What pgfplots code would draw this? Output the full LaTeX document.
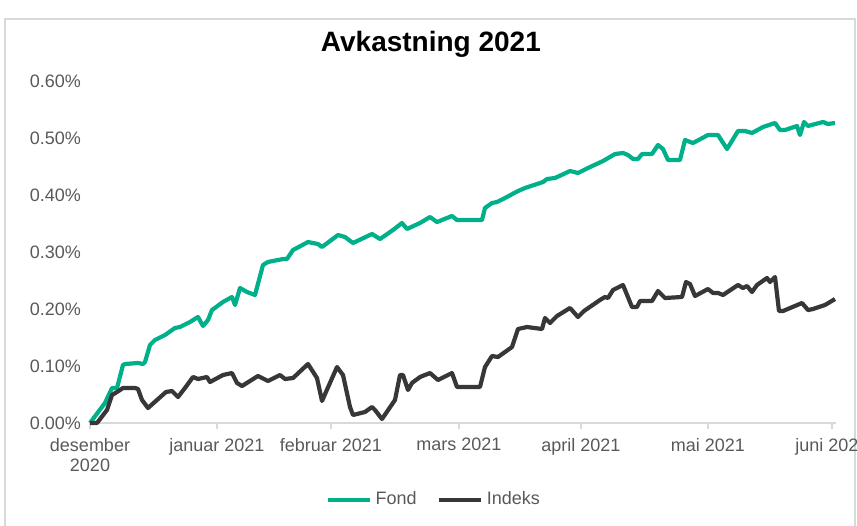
\documentclass[border=0pt]{standalone}
\usepackage{pgfplots}
\pgfplotsset{compat=1.18}
\usepackage{fontspec}
\setmainfont{Liberation Sans}
\definecolor{fondgreen}{RGB}{0,176,138}
\definecolor{indeksgray}{RGB}{55,55,55}
\definecolor{labgray}{RGB}{89,89,89}
\definecolor{linegray}{RGB}{217,217,217}
\begin{document}
\begin{tikzpicture}
\useasboundingbox (0,0) rectangle (428.5pt,262.5pt);
\draw[linegray, line width=0.8pt] (2.5pt,-5pt) -- (2.5pt,253pt) -- (427.5pt,253pt) -- (427.5pt,-5pt);
\begin{axis}[
  at={(45pt,51pt)}, anchor=south west,
  scale only axis, width=373pt, height=171pt,
  xmin=90, xmax=836, ymin=0, ymax=0.6,
  clip=false,
  axis lines*=left,
  x axis line style={linegray, line width=0.8pt},
  y axis line style={draw=none},
  xtick={90,217,331,459,581,708,832},
  xticklabels={desember\\2020, januar 2021, februar 2021, mars 2021, april 2021, mai 2021, juni 2021},
  xtick align=outside,
  major tick length=3pt,
  xtick style={linegray, line width=0.8pt},
  ytick={0,0.1,0.2,0.3,0.4,0.5,0.6},
  ytick style={draw=none},
  /pgf/number format/assume math mode=true,
  yticklabel={\pgfmathprintnumber[fixed,fixed zerofill,precision=2]{\tick}\%},
  ticklabel style={font=\fontsize{9}{10}\selectfont, text=labgray},
  xticklabel style={align=center, yshift=-1pt},
  yticklabel style={xshift=-1pt},
  title={Avkastning 2021},
  every axis title shift=0pt,
  title style={font=\fontsize{14}{16}\selectfont\bfseries, at={(0.457,1.108)}, anchor=center, yshift=0pt},
  legend style={draw=none, at={(0.462,-0.225)}, anchor=center, font=\fontsize{9}{10}\selectfont, text=labgray, legend columns=2, /tikz/every even column/.append style={column sep=8pt}},
  legend image code/.code={\draw[#1] (0pt,0pt) -- (21pt,0pt);},
  line join=round,
]
\addplot[fondgreen, line width=2.1pt] coordinates {
(90,0.000) (105,0.0351) (112,0.0614) (117,0.0614) (123,0.1018) (125,0.1035) (138,0.1053) (143,0.1035) (145,0.1070)
(150,0.1368) (155,0.1456) (165,0.1544) (175,0.1667) (180,0.1684) (190,0.1772) (198,0.1860) (203,0.1702) (208,0.1807)
(212,0.1982) (223,0.2123) (232,0.2211) (235,0.2070) (240,0.2368) (247,0.2298) (255,0.2246) (263,0.2772) (268,0.2825)
(283,0.2877) (287,0.2877) (293,0.3035) (308,0.3175) (318,0.3140) (322,0.3088) (338,0.3298) (345,0.3263) (353,0.3158)
(372,0.3316) (380,0.3228) (393,0.3386) (402,0.3509) (407,0.3404) (420,0.3509) (430,0.3614) (437,0.3526) (452,0.3632)
(457,0.3561) (482,0.3561) (485,0.3772) (492,0.3860) (497,0.3877) (505,0.3947) (518,0.4070) (525,0.4123) (543,0.4228)
(547,0.4281) (555,0.4298) (570,0.4421) (578,0.4386) (590,0.4491) (603,0.4596) (615,0.4719) (623,0.4737) (628,0.4702)
(633,0.4632) (638,0.4632) (642,0.4719) (652,0.4719) (658,0.4877) (663,0.4807) (668,0.4614) (680,0.4614) (685,0.4965)
(693,0.4912) (708,0.5053) (718,0.5053) (727,0.4807) (738,0.5123) (745,0.5123) (752,0.5088) (763,0.5193) (775,0.5263)
(780,0.5140) (785,0.5140) (797,0.5211) (800,0.5053) (804,0.5281) (808,0.5211) (823,0.5281) (828,0.5246) (835,0.5263)
};
\addlegendentry{Fond}
\addplot[indeksgray, line width=2.1pt] coordinates {
(90,0) (97,0) (107,0.0228) (112,0.0491) (117,0.0544) (123,0.0614) (135,0.0614) (138,0.0596) (142,0.0404) (148,0.0263)
(157,0.0404) (166,0.0544) (172,0.0561) (178,0.0456) (185,0.0614) (193,0.0807) (198,0.0772) (207,0.0807) (210,0.0719)
(223,0.0842) (232,0.0877) (237,0.0702) (242,0.0649) (258,0.0825) (268,0.0737) (280,0.0842) (285,0.0772) (293,0.0789)
(308,0.1035) (317,0.0789) (322,0.0386) (337,0.0982) (343,0.0842) (350,0.0281) (353,0.0140) (365,0.0193) (372,0.0281)
(375,0.0228) (382,0.0070) (395,0.0404) (400,0.0842) (403,0.0842) (408,0.0579) (412,0.0702) (420,0.0807) (430,0.0877)
(438,0.0754) (452,0.0877) (457,0.0632) (480,0.0632) (485,0.0982) (492,0.1175) (498,0.1158) (512,0.1333) (518,0.1649)
(527,0.1684) (542,0.1649) (545,0.1842) (550,0.1754) (557,0.1877) (570,0.2018) (578,0.1860) (584,0.1965) (600,0.2158)
(605,0.2211) (608,0.2193) (613,0.2333) (623,0.2421) (632,0.2035) (637,0.2035) (640,0.2140) (652,0.2140) (658,0.2316)
(665,0.2193) (682,0.2211) (686,0.2474) (690,0.2439) (695,0.2228) (708,0.2351) (713,0.2281) (718,0.2281) (723,0.2246)
(738,0.2421) (743,0.2368) (747,0.2404) (752,0.2298) (757,0.2421) (767,0.2544) (770,0.2474) (775,0.2561) (779,0.1965)
(783,0.1965) (802,0.2105) (808,0.1982) (813,0.2000) (825,0.2070) (835,0.2175)
};
\addlegendentry{Indeks}
\end{axis}
\end{tikzpicture}
\end{document}
